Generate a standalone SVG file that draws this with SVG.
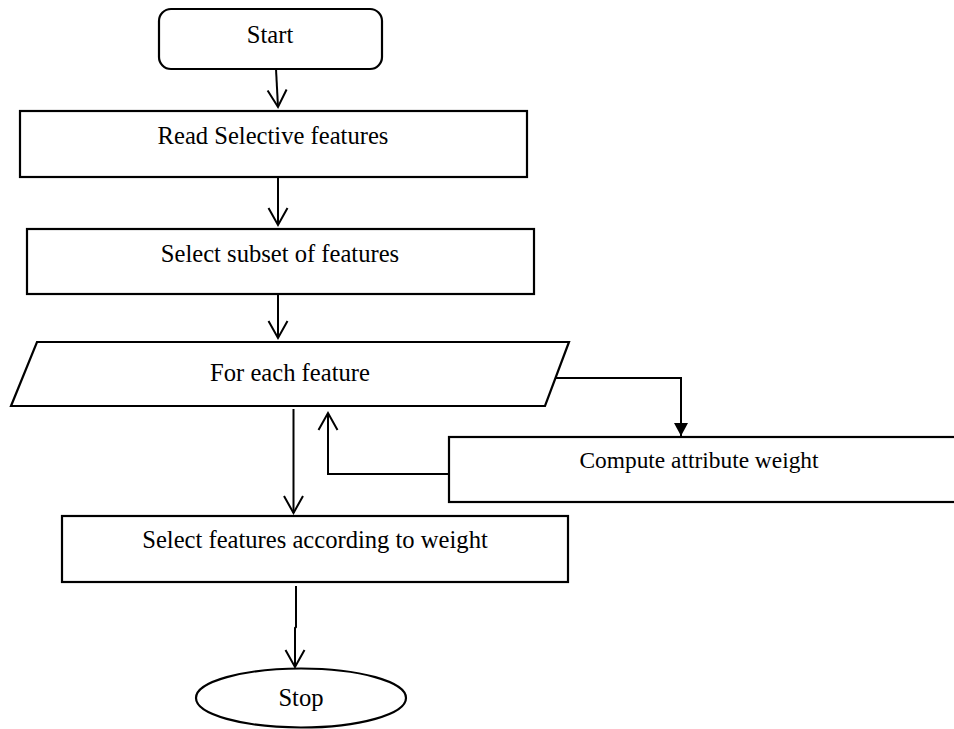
<svg xmlns="http://www.w3.org/2000/svg" width="954" height="729" viewBox="0 0 954 729">
<style>
.shape{fill:#fff;stroke:#000;stroke-width:2.2}
.lbl{font-family:"Liberation Serif","Times New Roman",serif;font-size:24.6px;fill:#000;text-anchor:middle}
.conn{fill:none;stroke:#000;stroke-width:2}
</style>
<defs>
<marker id="open" markerUnits="userSpaceOnUse" markerWidth="22" markerHeight="22" refX="18" refY="10" orient="auto" overflow="visible">
<path d="M1,0.5 L18,10 L1,19.5" fill="none" stroke="#000" stroke-width="2"/>
</marker>
<marker id="solid" markerUnits="userSpaceOnUse" markerWidth="16" markerHeight="16" refX="13" refY="7" orient="auto" overflow="visible">
<path d="M0,0 L13,7 L0,14 Z" fill="#000"/>
</marker>
</defs>
<rect width="954" height="729" fill="#fff"/>
<g id="start">
<rect class="shape" x="159" y="9" width="223" height="60" rx="12"/>
<text class="lbl" x="270" y="43">Start</text>
</g>
<g id="read">
<rect class="shape" x="20" y="111" width="507" height="66"/>
<text class="lbl" x="273" y="144">Read Selective features</text>
</g>
<g id="subset">
<rect class="shape" x="27" y="229" width="507" height="65"/>
<text class="lbl" x="280" y="262">Select subset of features</text>
</g>
<g id="foreach">
<polygon class="shape" points="37,342 569,342 545,406 11,406"/>
<text class="lbl" x="290" y="381">For each feature</text>
</g>
<g id="compute">
<rect class="shape" x="449" y="437" width="515" height="65"/>
<text class="lbl" x="699" y="468" style="font-size:23.4px">Compute attribute weight</text>
</g>
<g id="selectw">
<rect class="shape" x="62" y="516" width="506" height="66"/>
<text class="lbl" x="315" y="548">Select features according to weight</text>
</g>
<g id="stop">
<ellipse class="shape" cx="301" cy="698" rx="105" ry="29.5"/>
<text class="lbl" x="301" y="706">Stop</text>
</g>
<g id="connectors">
<path class="conn" d="M276,69 L278,107" marker-end="url(#open)"/>
<path class="conn" d="M278,177 L278,225" marker-end="url(#open)"/>
<path class="conn" d="M278,294 L278,338" marker-end="url(#open)"/>
<path class="conn" d="M293.5,409 L293.5,513" marker-end="url(#open)"/>
<path class="conn" d="M555,378 L681,378 L681,436" marker-end="url(#solid)"/>
<path class="conn" d="M449,474 L328,474 L328,413" marker-end="url(#open)"/>
<path class="conn" d="M296,586 L296,627 L295,628 L295,667" marker-end="url(#open)"/>
</g>
</svg>
